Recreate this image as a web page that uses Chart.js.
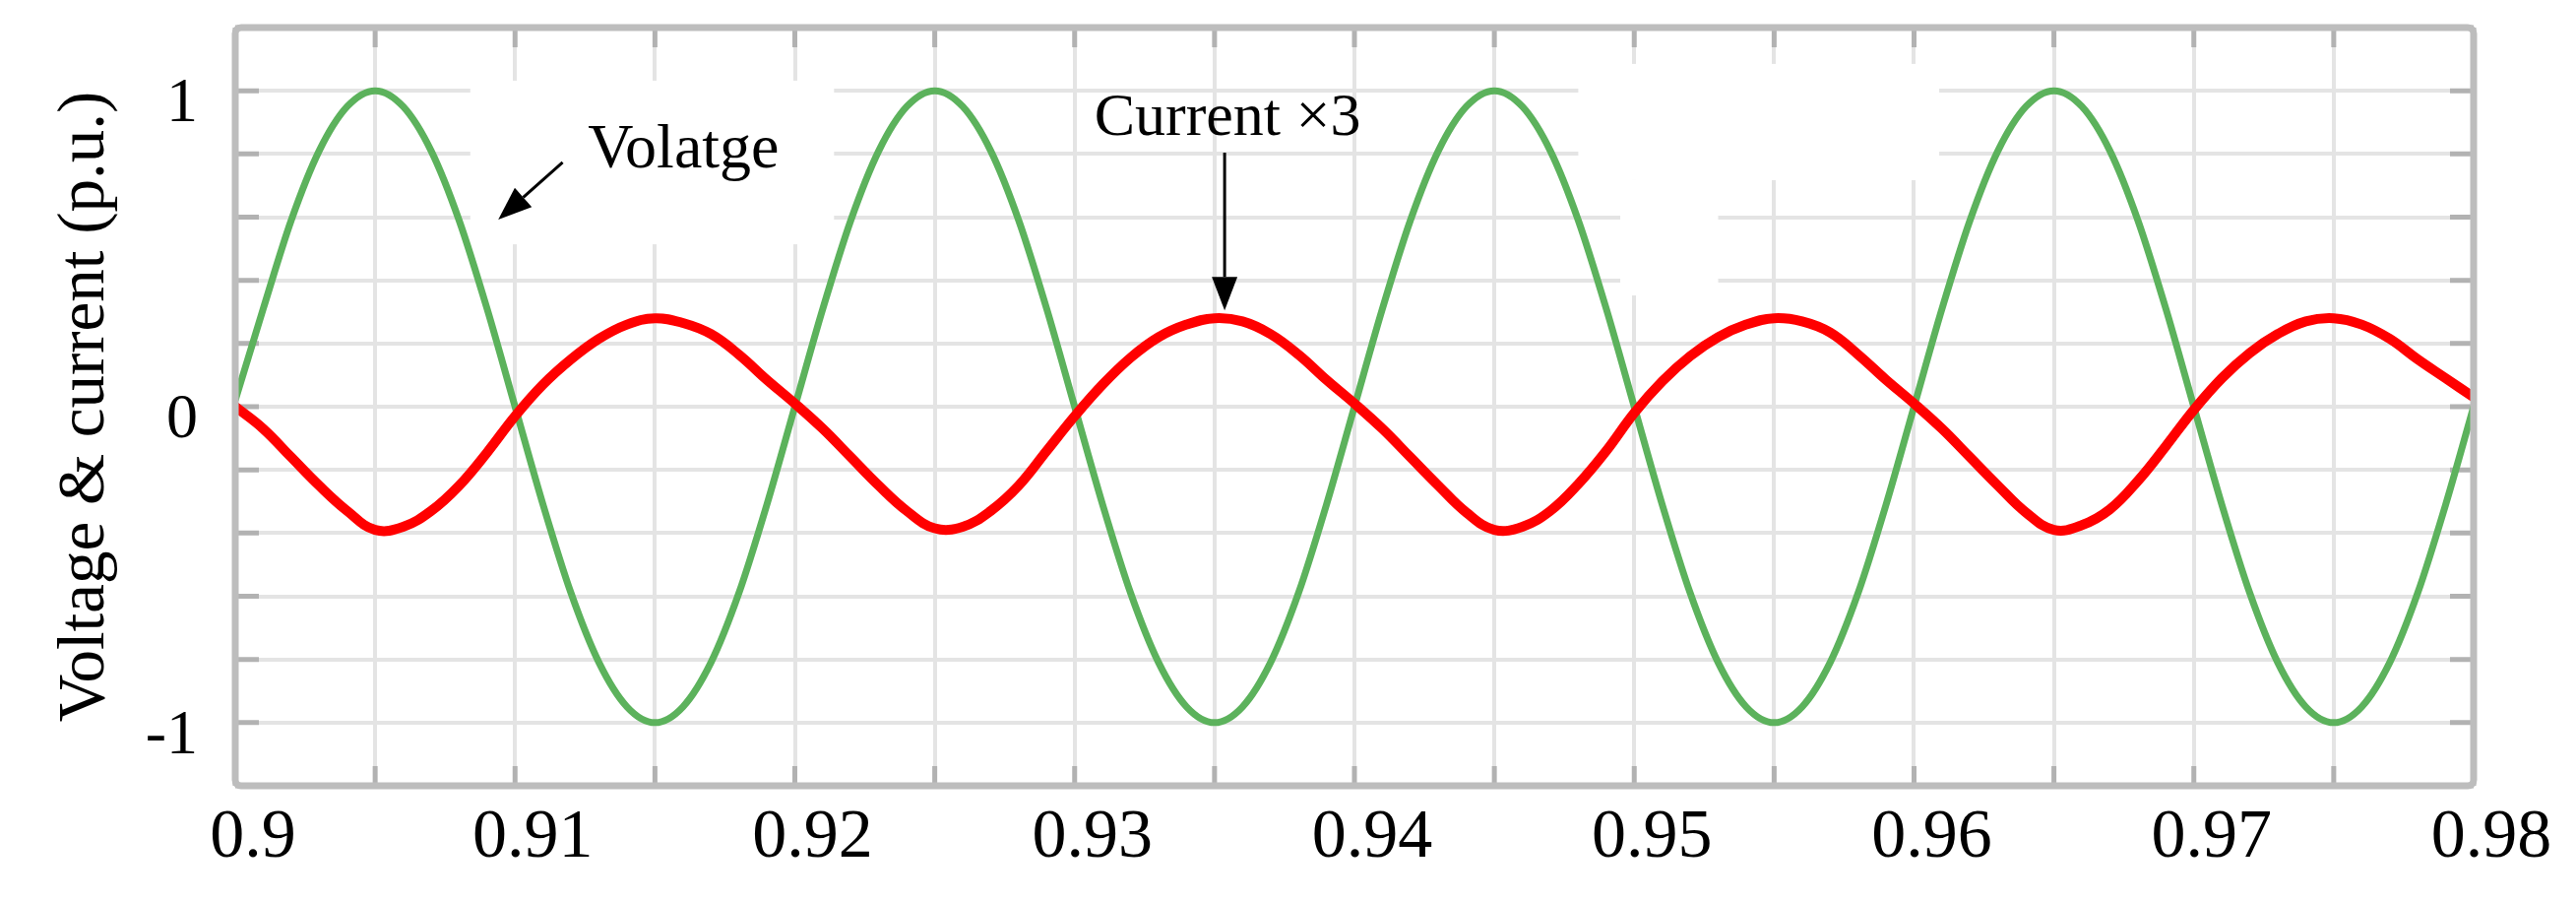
<!DOCTYPE html>
<html>
<head>
<meta charset="utf-8">
<title>Voltage and current</title>
<script src="https://cdn.jsdelivr.net/npm/chart.js@4.4.1/dist/chart.umd.min.js"></script>
<style>
  html, body { margin: 0; padding: 0; background: #fff; }
  canvas { display: block; }
</style>
</head>
<body>
<canvas id="wave" width="2617" height="915"></canvas>
<script>
// sample times (s), one every 1 ms
const timeValues = [
  0.900, 0.901, 0.902, 0.903, 0.904, 0.905, 0.906, 0.907, 0.908, 0.909,
  0.910, 0.911, 0.912, 0.913, 0.914, 0.915, 0.916, 0.917, 0.918, 0.919,
  0.920, 0.921, 0.922, 0.923, 0.924, 0.925, 0.926, 0.927, 0.928, 0.929,
  0.930, 0.931, 0.932, 0.933, 0.934, 0.935, 0.936, 0.937, 0.938, 0.939,
  0.940, 0.941, 0.942, 0.943, 0.944, 0.945, 0.946, 0.947, 0.948, 0.949,
  0.950, 0.951, 0.952, 0.953, 0.954, 0.955, 0.956, 0.957, 0.958, 0.959,
  0.960, 0.961, 0.962, 0.963, 0.964, 0.965, 0.966, 0.967, 0.968, 0.969,
  0.970, 0.971, 0.972, 0.973, 0.974, 0.975, 0.976, 0.977, 0.978, 0.979,
  0.980
];

// voltage (p.u.), green trace
const voltageValues = [
  0.02, 0.31, 0.59, 0.81, 0.95, 1.00, 0.95, 0.81, 0.59, 0.31,
  0.00, -0.31, -0.59, -0.81, -0.95, -1.00, -0.95, -0.81, -0.59, -0.31,
  0.00, 0.31, 0.59, 0.81, 0.95, 1.00, 0.95, 0.81, 0.59, 0.31,
  0.00, -0.31, -0.59, -0.81, -0.95, -1.00, -0.95, -0.81, -0.59, -0.31,
  0.00, 0.31, 0.59, 0.81, 0.95, 1.00, 0.95, 0.81, 0.59, 0.31,
  0.00, -0.31, -0.59, -0.81, -0.95, -1.00, -0.95, -0.81, -0.59, -0.31,
  0.00, 0.31, 0.59, 0.81, 0.95, 1.00, 0.95, 0.81, 0.59, 0.31,
  0.00, -0.31, -0.59, -0.81, -0.95, -1.00, -0.95, -0.81, -0.59, -0.31,
  0.00
];

// current x3 (p.u.), red trace
const currentValues = [
  0.00, -0.07, -0.16, -0.25, -0.33, -0.39, -0.38, -0.33, -0.25, -0.145,
  -0.03, 0.07, 0.15, 0.215, 0.26, 0.28, 0.265, 0.23, 0.165, 0.085,
  0.01, -0.07, -0.16, -0.25, -0.33, -0.385, -0.38, -0.33, -0.25, -0.14,
  -0.03, 0.07, 0.155, 0.22, 0.26, 0.28, 0.27, 0.23, 0.165, 0.085,
  0.01, -0.07, -0.16, -0.25, -0.335, -0.39, -0.38, -0.33, -0.245, -0.14,
  -0.02, 0.08, 0.16, 0.22, 0.26, 0.28, 0.27, 0.235, 0.165, 0.085,
  0.01, -0.07, -0.16, -0.25, -0.335, -0.39, -0.375, -0.325, -0.235, -0.125,
  -0.01, 0.09, 0.17, 0.23, 0.27, 0.28, 0.26, 0.215, 0.15, 0.09,
  0.03
];

const xTickLabels = ['0.9', '0.91', '0.92', '0.93', '0.94', '0.95', '0.96', '0.97', '0.98'];
const yTickLabels = ['-1', '0', '1'];

const serif = "'Liberation Serif', 'Times New Roman', serif";

// annotations, anchored in data units
const notes = [
  { text: 'Volatge', size: 64, t: 0.9126, v: 0.757, from: [0.9117, 0.773], to: [0.9094, 0.592] },
  { text: 'Current \u00d73', size: 62, t: 0.9307, v: 0.86, from: [0.93536, 0.804], to: [0.93536, 0.305] }
];
// white patches behind the annotations (they hide the grid there)
const patches = [
  { t0: 0.9084, t1: 0.9214, v0: 1.032, v1: 0.514 },
  { t0: 0.9480, t1: 0.9609, v0: 1.085, v1: 0.717 },
  { t0: 0.9495, t1: 0.9530, v0: 0.717, v1: 0.352 }
];

function pick(labels, value) {
  const hit = labels.find(s => Math.abs(parseFloat(s) - value) < 1e-7);
  return hit === undefined ? '' : hit;
}

function arrow(ctx, x0, y0, x1, y1) {
  const ang = Math.atan2(y1 - y0, x1 - x0);
  const len = 34, half = 13;
  const bx = x1 - len * Math.cos(ang), by = y1 - len * Math.sin(ang);
  ctx.beginPath();
  ctx.moveTo(x0, y0);
  ctx.lineTo(bx, by);
  ctx.stroke();
  ctx.beginPath();
  ctx.moveTo(x1, y1);
  ctx.lineTo(bx + half * Math.sin(ang), by - half * Math.cos(ang));
  ctx.lineTo(bx - half * Math.sin(ang), by + half * Math.cos(ang));
  ctx.closePath();
  ctx.fill();
}

const framePlugin = {
  id: 'frame',
  beforeDatasetsDraw(chart) {
    const { ctx, chartArea: a, scales: { x, y } } = chart;
    ctx.save();
    ctx.fillStyle = '#ffffff';
    patches.forEach(p => {
      const x0 = x.getPixelForValue(p.t0), x1 = x.getPixelForValue(p.t1);
      const y0 = y.getPixelForValue(p.v0), y1 = y.getPixelForValue(p.v1);
      ctx.fillRect(x0, y0, x1 - x0, y1 - y0);
    });
    // inward tick marks, matlab style
    ctx.strokeStyle = '#b2b2b2';
    ctx.lineWidth = 5;
    x.ticks.forEach(tk => {
      const px = x.getPixelForValue(tk.value);
      ctx.beginPath();
      ctx.moveTo(px, a.top); ctx.lineTo(px, a.top + 20);
      ctx.moveTo(px, a.bottom); ctx.lineTo(px, a.bottom - 20);
      ctx.stroke();
    });
    y.ticks.forEach(tk => {
      const py = y.getPixelForValue(tk.value);
      ctx.beginPath();
      ctx.moveTo(a.left, py); ctx.lineTo(a.left + 24, py);
      ctx.moveTo(a.right, py); ctx.lineTo(a.right - 24, py);
      ctx.stroke();
    });
    ctx.restore();
  },
  afterDatasetsDraw(chart) {
    const { ctx, chartArea: a, scales: { x, y } } = chart;
    ctx.save();
    ctx.strokeStyle = '#bdbdbd';
    ctx.lineWidth = 7;
    ctx.beginPath();
    ctx.roundRect(a.left, a.top, a.right - a.left, a.bottom - a.top, 6);
    ctx.stroke();

    ctx.fillStyle = '#000';
    ctx.strokeStyle = '#000';
    ctx.lineWidth = 3;
    ctx.textBaseline = 'alphabetic';
    notes.forEach(n => {
      ctx.font = n.size + 'px ' + serif;
      ctx.fillText(n.text, x.getPixelForValue(n.t), y.getPixelForValue(n.v));
      arrow(ctx,
        x.getPixelForValue(n.from[0]), y.getPixelForValue(n.from[1]),
        x.getPixelForValue(n.to[0]), y.getPixelForValue(n.to[1]));
    });
    ctx.restore();
  }
};

const toPoints = vals => vals.map((v, i) => ({ x: timeValues[i], y: v }));

new Chart(document.getElementById('wave'), {
  type: 'line',
  data: {
    datasets: [
      {
        label: 'Current x3',
        data: toPoints(currentValues),
        borderColor: '#ff0000',
        borderWidth: 10,
        pointRadius: 0,
        tension: 0.4,
        order: 0
      },
      {
        label: 'Voltage',
        data: toPoints(voltageValues),
        borderColor: '#5cb25c',
        borderWidth: 7,
        pointRadius: 0,
        cubicInterpolationMode: 'monotone',
        order: 1
      }
    ]
  },
  options: {
    responsive: false,
    animation: false,
    devicePixelRatio: 1,
    events: [],
    layout: { autoPadding: false, padding: { left: 46, right: 104, top: 28, bottom: 21 } },
    plugins: {
      legend: { display: false },
      title: { display: false },
      tooltip: { enabled: false }
    },
    scales: {
      x: {
        type: 'linear',
        min: 0.9,
        max: 0.98,
        border: { display: false },
        grid: { color: '#e4e4e4', lineWidth: 4, drawTicks: false },
        afterFit(s) { s.height = 96; s.paddingLeft = 0; s.paddingRight = 0; },
        ticks: {
          stepSize: 0.005,
          autoSkip: false,
          maxRotation: 0,
          padding: 12,
          labelOffset: 18,
          color: '#000',
          font: { family: serif, size: 70 },
          callback: v => pick(xTickLabels, v)
        }
      },
      y: {
        min: -1.2,
        max: 1.2,
        border: { display: false },
        grid: { color: '#e4e4e4', lineWidth: 4, drawTicks: false },
        afterFit(s) { s.width = 193; s.paddingTop = 0; s.paddingBottom = 0; },
        ticks: {
          stepSize: 0.2,
          autoSkip: false,
          padding: 38,
          labelOffset: 14,
          color: '#000',
          font: { family: serif, size: 64 },
          callback: v => pick(yTickLabels, v)
        },
        title: {
          display: true,
          text: 'Voltage & current (p.u.)',
          color: '#000',
          font: { family: serif, size: 67 },
          padding: { top: 1, bottom: 6 }
        }
      }
    }
  },
  plugins: [framePlugin]
});
</script>
</body>
</html>
